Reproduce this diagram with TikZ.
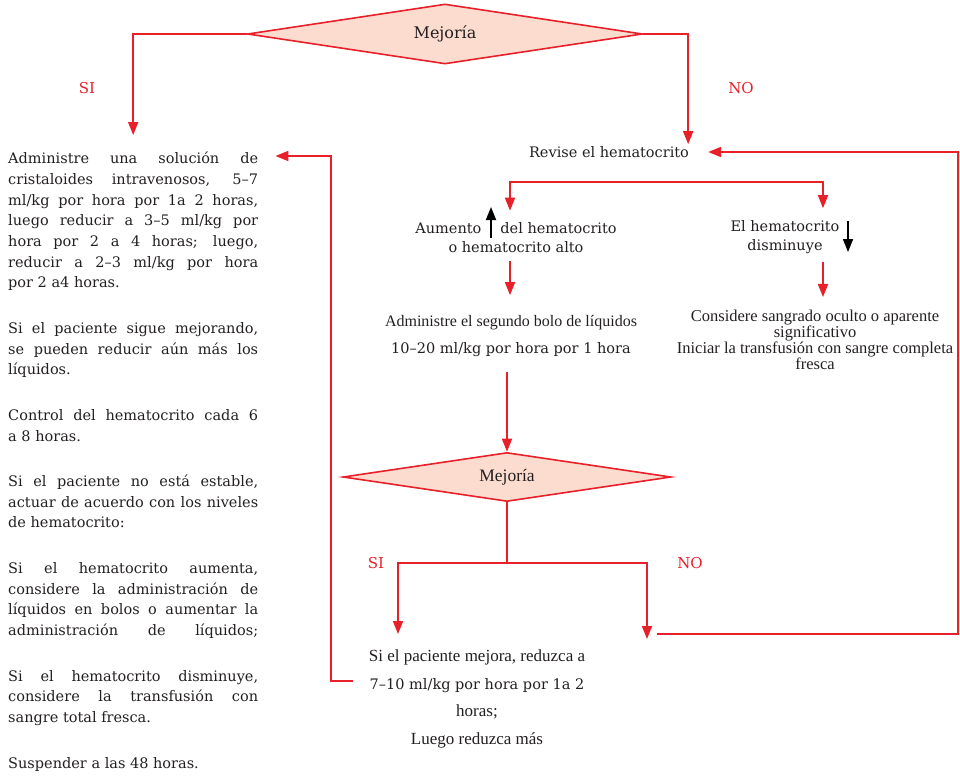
\documentclass[tikz,border=0pt]{standalone}
\usepackage{fontspec}
\setmainfont{DejaVu Serif}
\usetikzlibrary{shapes.geometric,arrows.meta}
\newfontfamily\condfont{Liberation Serif}
\definecolor{myred}{HTML}{E8202A}
\definecolor{mypink}{HTML}{FCDCCF}
\definecolor{mytext}{HTML}{231F20}
\tikzset{
  flow/.style={draw=myred,line width=1.8pt,-{Triangle[length=13pt,width=10pt]}},
  flowtwo/.style={draw=myred,line width=1.8pt,{Triangle[length=13pt,width=10pt]}-{Triangle[length=13pt,width=10pt]}},
  deci/.style={diamond,draw=myred,fill=mypink,line width=1.6pt,inner sep=0pt,aspect=6,text=mytext,font=\fontsize{16}{20}\selectfont},
  txt/.style={text=mytext,inner sep=4pt,align=center,font=\fontsize{14.5}{19}\selectfont},
  lab/.style={text=myred,font=\fontsize{15}{19}\selectfont},
  blk/.style={draw=black,line width=1.8pt,-{Triangle[length=13pt,width=10pt]}}
}
\begin{document}
\begin{tikzpicture}[x=1pt,y=-1pt]
    \useasboundingbox (0,0) rectangle (960,776);

    \node[deci,minimum width=395pt,minimum height=60pt] (d1) at (445,34) {Mejoría};
    \node[lab] (si1) at (87,88) {SI};
    \node[lab] (no1) at (741,88) {NO};

    \node[anchor=north west,inner sep=0pt,text=mytext] (plan) at (8,152) {\parbox[t]{250pt}{\fontsize{14.5}{20.7}\selectfont
      \setlength{\parskip}{24.8pt}\hyphenpenalty=10000\tolerance=10000\emergencystretch=20pt
      Administre una solución de\linebreak cristaloides intravenosos, 5--7\linebreak ml/kg por hora por 1a 2 horas,\linebreak luego reducir a 3--5 ml/kg por\linebreak hora por 2 a 4 horas; luego,\linebreak reducir a 2--3 ml/kg por hora\linebreak por 2 a4 horas.\par
      Si el paciente sigue mejorando,\linebreak se pueden reducir aún más los\linebreak líquidos.\par
      Control del hematocrito cada 6\linebreak a 8 horas.\par
      Si el paciente no está estable,\linebreak actuar de acuerdo con los niveles\linebreak de hematocrito:\par
      Si el hematocrito aumenta,\linebreak considere la administración de\linebreak líquidos en bolos o aumentar la\linebreak administración de líquidos;{\parfillskip=0pt\par}
      Si el hematocrito disminuye,\linebreak considere la transfusión con\linebreak sangre total fresca.\par
      Suspender a las 48 horas.}};

    \node[txt] (rev) at (609,152) {Revise el hematocrito};
    \node[txt] (aum) at (516,238) {Aumento\hspace{19pt}del hematocrito\\o hematocrito alto};
    \node[txt] (dis) at (785,237) {El hematocrito\\disminuye};
    \node[txt,font=\fontsize{14.5}{27}\selectfont] (bolo) at (511,336) {{\condfont\fontsize{16}{27}\selectfont Administre el segundo bolo de líquidos}\\10--20 ml/kg por hora por 1 hora};
    \node[txt,font=\condfont\fontsize{16.5}{16}\selectfont] (cons) at (815,340) {Considere sangrado oculto o aparente\\significativo\\Iniciar la transfusión con sangre completa\\fresca};

    \node[deci,minimum width=328pt,minimum height=49pt] (d2) at (507,477) {\condfont\fontsize{17.5}{20}\selectfont Mejoría};
    \node[lab] (si2) at (376,563) {SI};
    \node[lab] (no2) at (690,563) {NO};
    \node[txt,font=\fontsize{14.5}{27.7}\selectfont] (fin) at (477,699) {{\condfont\fontsize{17}{27.7}\selectfont Si el paciente mejora, reduzca a}\\7--10 ml/kg por hora por 1a 2\\{\condfont\fontsize{17}{27.7}\selectfont horas;}\\{\condfont\fontsize{17}{27.7}\selectfont Luego reduzca más}};

    \coordinate (siend) at (398,634);
    \coordinate (noend) at (647,639);
    \coordinate (loopno) at (657,634);
    \coordinate (loopsi) at (353,681);

    \draw[flow,shorten >=17pt] (d1.west) -| (plan.north);
    \draw[flow] (d1.east) -| ([xshift=-5pt,yshift=-2pt]rev.north east);
    \draw[flowtwo,shorten <=8pt,shorten >=8pt] ([xshift=-6pt]aum.north) -- ++(0,-37) -| ([xshift=38pt]dis.north);
    \draw[flow,shorten <=4pt,shorten >=16pt] ([xshift=-6pt]aum.south) -- ([xshift=-6pt]aum.south |- bolo.north);
    \draw[flow,shorten <=4pt,shorten >=9pt] ([xshift=38pt]dis.south) -- ([xshift=38pt]dis.south |- cons.north);
    \draw[flow,shorten <=11pt] (bolo.south -| d2.north) -- (d2.north);
    \draw[flow] (d2.south) -- ++(0,61) -| (siend);
    \draw[flow] (d2.south) -- ++(0,61) -| (noend);
    \draw[flow,shorten >=15pt] (loopno) -- ++(301,0) |- (rev.east);
    \draw[flow,shorten >=17pt] (loopsi) -- ++(-22,0) |- ([yshift=-4pt]plan.north east);

    \draw[blk] (491,238) -- (491,207);
    \draw[blk] (848,221) -- (848,252);
\end{tikzpicture}
\end{document}
